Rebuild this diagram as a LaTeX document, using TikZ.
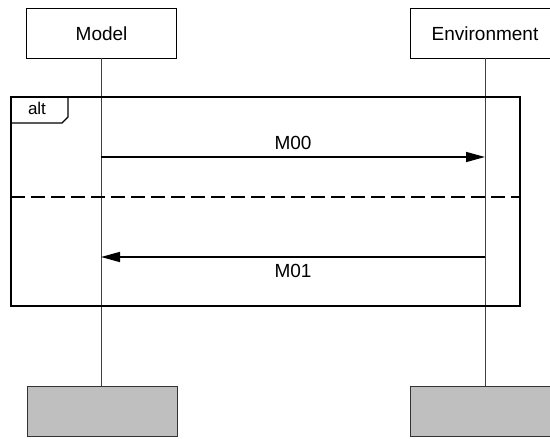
\documentclass[tikz,border=0pt]{standalone}
\usepackage{fontspec}
\setmainfont{Liberation Sans}
\usetikzlibrary{arrows.meta}
\begin{document}
\begin{tikzpicture}[x=1pt,y=-1pt,
  lbl/.style={font=\fontsize{19}{22}\selectfont},
  head/.style={draw=black,line width=1.2pt,fill=white,minimum width=150pt,minimum height=50pt,inner sep=0pt,anchor=north west},
  foot/.style={draw=black!80,line width=1.2pt,fill=black!25,minimum width=150pt,minimum height=50pt,inner sep=0pt,anchor=north west},
  life/.style={draw=black!75,line width=0.8pt},
  msg/.style={draw=black,line width=1.6pt,-{Triangle[length=19pt,width=10pt]}},
  frame/.style={draw=black,line width=1.8pt}]
\useasboundingbox (0,0) rectangle (550,439);
\node[head] (model) at (26,8) {};
\node[lbl] at (model.center) {Model};
\node[head,minimum width=145pt] (env) at (410,8) {};
\node[lbl] at (485,34) {Environment};
\node[foot] (mfoot) at (27,386) {};
\node[foot,minimum width=145pt] (efoot) at (410,386) {};
\coordinate (mtop) at (101,58);
\coordinate (mbot) at (101,386);
\coordinate (etop) at (485,58);
\coordinate (ebot) at (485,386);
\draw[life] (mtop) -- (mbot);
\draw[life] (etop) -- (ebot);
\draw[frame] (11,97) rectangle (520,306);
\draw[frame,line width=1.3pt] (11,123) -- (62,123) -- (68,117) -- (68,97);
\node[lbl,font=\fontsize{17}{19}\selectfont] at (37,108) {alt};
\draw[frame,line width=1.4pt,dash pattern=on 14pt off 6pt] (11,197) -- (520,197);
\coordinate (m0a) at (101,157);
\coordinate (m0b) at (485,157);
\coordinate (m1a) at (485,257);
\coordinate (m1b) at (101,257);
\draw[msg] (m0a) -- (m0b) node[lbl,midway,above=3pt] {M00};
\draw[msg] (m1a) -- (m1b) node[lbl,midway,below=3pt] {M01};
\end{tikzpicture}
\end{document}
